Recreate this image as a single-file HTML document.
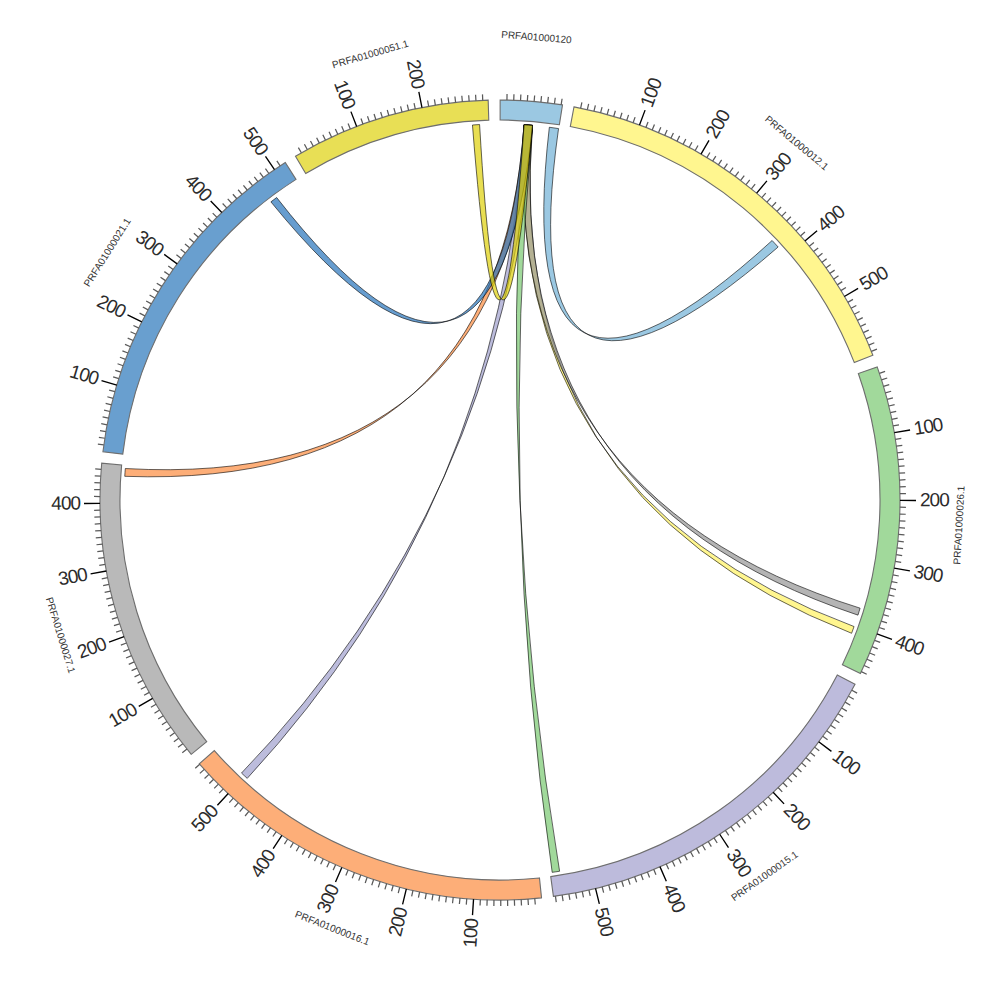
<!DOCTYPE html><html><head><meta charset="utf-8"><style>html,body{margin:0;padding:0;background:#fff;}svg{display:block}</style></head><body>
<svg width="1000" height="1000" viewBox="0 0 1000 1000" font-family="Liberation Sans, sans-serif">
<rect width="1000" height="1000" fill="#fff"/>
<path d="M500.14,100.00A400,400 0 0 1 562.51,104.91L559.38,124.67A380,380 0 0 0 500.13,120.00Z" fill="#9bc8e2" stroke="#6e6e6e" stroke-width="1.1"/>
<path d="M573.99,106.90A400,400 0 0 1 872.86,355.18L854.22,362.42A380,380 0 0 0 570.29,126.56Z" fill="#fff68f" stroke="#6e6e6e" stroke-width="1.1"/>
<path d="M877.20,366.87A400,400 0 0 1 860.41,673.50L842.39,664.83A380,380 0 0 0 858.34,373.53Z" fill="#a1d99b" stroke="#6e6e6e" stroke-width="1.1"/>
<path d="M855.03,684.27A400,400 0 0 1 553.41,896.42L550.74,876.60A380,380 0 0 0 837.28,675.05Z" fill="#bdbbdc" stroke="#6e6e6e" stroke-width="1.1"/>
<path d="M541.53,897.84A400,400 0 0 1 199.30,763.78L214.34,750.59A380,380 0 0 0 539.46,877.95Z" fill="#fdae78" stroke="#6e6e6e" stroke-width="1.1"/>
<path d="M191.26,754.32A400,400 0 0 1 101.69,463.22L121.61,465.06A380,380 0 0 0 206.70,741.61Z" fill="#b9b9b9" stroke="#6e6e6e" stroke-width="1.1"/>
<path d="M102.92,451.74A400,400 0 0 1 285.29,162.51L296.03,179.38A380,380 0 0 0 122.78,454.15Z" fill="#699fcf" stroke="#6e6e6e" stroke-width="1.1"/>
<path d="M295.48,156.24A400,400 0 0 1 488.18,100.17L488.77,120.17A380,380 0 0 0 305.71,173.43Z" fill="#e8df55" stroke="#6e6e6e" stroke-width="1.1"/>
<path d="M506.95,100.06L507.05,94.06M513.75,100.24L513.96,94.24M520.55,100.53L520.86,94.54M527.35,100.94L527.76,94.95M534.13,101.46L534.65,95.48M540.91,102.10L541.53,96.13M547.68,102.85L548.39,96.89M554.43,103.72L555.25,97.78M561.16,104.70L562.08,98.77M580.67,108.22L581.88,102.34M587.33,109.65L588.64,103.79M593.96,111.19L595.37,105.36M600.56,112.85L602.07,107.04M607.13,114.61L608.74,108.83M613.68,116.49L615.38,110.74M620.19,118.48L621.99,112.76M626.66,120.58L628.56,114.89M633.10,122.79L635.10,117.14M645.86,127.54L648.05,121.95M652.18,130.08L654.46,124.53M658.45,132.72L660.83,127.21M664.68,135.47L667.15,130.00M670.86,138.33L673.42,132.90M676.99,141.29L679.64,135.90M683.06,144.35L685.81,139.01M689.09,147.52L691.93,142.23M695.06,150.78L697.99,145.55M706.83,157.63L709.93,152.49M712.63,161.19L715.82,156.11M718.36,164.86L721.64,159.83M724.03,168.63L727.40,163.66M729.64,172.49L733.09,167.57M735.18,176.44L738.71,171.59M740.65,180.49L744.26,175.70M746.06,184.63L749.75,179.90M751.39,188.87L755.16,184.20M761.83,197.60L765.76,193.06M766.94,202.10L770.94,197.63M771.97,206.69L776.05,202.29M776.92,211.36L781.07,207.03M781.79,216.11L786.02,211.85M786.58,220.95L790.88,216.76M791.29,225.86L795.66,221.75M795.91,230.86L800.35,226.82M800.45,235.94L804.96,231.97M809.26,246.31L813.90,242.51M813.53,251.61L818.24,247.89M817.72,256.98L822.48,253.34M821.81,262.43L826.63,258.86M825.80,267.94L830.69,264.46M829.70,273.51L834.65,270.12M833.51,279.16L838.51,275.85M837.22,284.87L842.28,281.64M840.83,290.64L845.94,287.50M847.76,302.36L852.98,299.39M851.07,308.30L856.34,305.43M854.28,314.30L859.60,311.52M857.39,320.36L862.75,317.67M860.40,326.47L865.80,323.86M863.30,332.63L868.75,330.12M866.09,338.83L871.59,336.42M868.78,345.09L874.32,342.76M871.37,351.38L876.94,349.15M879.41,373.31L885.10,371.41M881.51,379.79L887.23,377.98M883.50,386.29L889.25,384.59M885.38,392.84L891.16,391.23M887.15,399.41L892.95,397.90M888.80,406.01L894.63,404.60M890.34,412.64L896.20,411.33M891.77,419.30L897.65,418.09M893.09,425.98L898.99,424.87M895.38,439.40L901.31,438.49M896.36,446.14L902.30,445.33M897.22,452.89L903.17,452.18M897.96,459.65L903.93,459.05M898.59,466.43L904.57,465.93M899.10,473.22L905.09,472.82M899.50,480.02L905.49,479.72M899.78,486.82L905.78,486.62M899.95,493.62L905.95,493.53M899.93,507.24L905.93,507.34M899.75,514.04L905.75,514.25M899.46,520.84L905.45,521.15M899.04,527.64L905.03,528.05M898.52,534.42L904.49,534.94M897.87,541.20L903.84,541.82M897.11,547.96L903.07,548.68M896.24,554.72L902.18,555.54M895.25,561.45L901.18,562.37M892.93,574.87L898.83,575.99M891.60,581.54L897.47,582.76M890.16,588.19L896.01,589.52M888.60,594.82L894.43,596.24M886.93,601.42L892.73,602.94M885.15,607.99L890.92,609.61M883.25,614.53L889.00,616.25M881.25,621.03L886.97,622.85M879.13,627.50L884.82,629.42M874.58,640.33L880.19,642.44M872.13,646.69L877.72,648.89M869.58,653.00L875.13,655.29M866.93,659.26L872.43,661.65M864.16,665.49L869.63,667.97M861.29,671.66L866.71,674.23M851.84,690.28L857.12,693.14M848.55,696.24L853.78,699.18M845.16,702.14L850.34,705.18M841.67,707.99L846.80,711.11M838.08,713.77L843.16,716.98M834.40,719.50L839.41,722.79M830.61,725.15L835.57,728.53M826.73,730.75L831.64,734.21M822.76,736.27L827.60,739.82M814.53,747.12L819.25,750.83M810.28,752.44L814.94,756.22M805.94,757.68L810.53,761.55M801.51,762.85L806.04,766.79M797.00,767.94L801.45,771.96M792.39,772.96L796.78,777.05M787.71,777.89L792.02,782.06M782.93,782.75L787.18,786.99M778.08,787.52L782.25,791.84M768.14,796.82L772.16,801.27M763.05,801.34L766.99,805.86M757.88,805.77L761.75,810.36M752.64,810.12L756.43,814.77M747.33,814.37L751.04,819.09M741.94,818.54L745.57,823.31M736.48,822.61L740.03,827.45M730.96,826.58L734.42,831.48M725.37,830.47L728.75,835.42M713.99,837.95L717.20,843.01M708.21,841.54L711.33,846.66M702.37,845.03L705.40,850.21M696.47,848.43L699.41,853.65M690.51,851.72L693.37,856.99M684.50,854.91L687.26,860.23M678.43,858.00L681.11,863.37M672.31,860.98L674.90,866.40M666.14,863.86L668.64,869.32M653.67,869.31L655.97,874.85M647.36,871.87L649.57,877.45M641.01,874.32L643.12,879.94M634.62,876.67L636.64,882.32M628.19,878.90L630.11,884.59M621.72,881.03L623.55,886.74M615.22,883.05L616.95,888.79M608.69,884.95L610.32,890.73M602.12,886.74L603.65,892.55M588.90,890.00L590.23,895.85M582.25,891.45L583.48,897.32M575.58,892.80L576.71,898.69M568.88,894.02L569.91,899.93M562.17,895.14L563.10,901.07M555.43,896.14L556.26,902.08M534.76,898.49L535.28,904.46M527.97,899.02L528.39,905.01M521.18,899.44L521.49,905.43M514.38,899.74L514.59,905.74M507.57,899.93L507.69,905.93M500.76,900.00L500.78,906.00M493.96,899.95L493.87,905.95M487.15,899.79L486.96,905.79M480.35,899.52L480.06,905.51M466.77,898.62L466.27,904.60M459.99,897.99L459.39,903.96M453.22,897.26L452.52,903.21M446.47,896.40L445.66,902.35M439.73,895.43L438.83,901.36M433.01,894.35L432.00,900.27M426.31,893.15L425.20,899.05M419.63,891.84L418.42,897.72M412.97,890.42L411.67,896.27M399.74,887.23L398.23,893.04M393.16,885.47L391.56,891.25M386.62,883.59L384.92,889.35M380.11,881.61L378.31,887.33M373.63,879.51L371.73,885.21M367.19,877.31L365.20,882.97M360.79,874.99L358.70,880.62M354.43,872.57L352.24,878.16M348.11,870.04L345.83,875.59M335.60,864.66L333.14,870.12M329.42,861.80L326.86,867.23M323.29,858.85L320.64,864.23M317.21,855.79L314.47,861.13M311.18,852.63L308.35,857.92M305.21,849.36L302.28,854.60M299.29,846.00L296.28,851.19M293.43,842.53L290.33,847.67M287.63,838.97L284.44,844.05M276.22,831.54L272.86,836.52M270.61,827.69L267.17,832.60M265.07,823.74L261.54,828.59M259.59,819.69L255.98,824.49M254.18,815.55L250.50,820.29M248.85,811.33L245.08,816.00M243.59,807.01L239.74,811.61M238.40,802.60L234.48,807.14M233.29,798.10L229.29,802.58M223.30,788.85L219.15,793.19M218.42,784.10L214.20,788.37M213.63,779.27L209.33,783.46M208.92,774.36L204.55,778.47M204.29,769.36L199.86,773.40M199.75,764.29L195.25,768.26M186.98,749.03L182.28,752.77M182.79,743.67L178.03,747.32M178.68,738.24L173.87,741.81M174.68,732.73L169.80,736.22M170.76,727.16L165.83,730.57M166.95,721.53L161.95,724.85M163.22,715.83L158.17,719.07M159.60,710.07L154.49,713.22M156.07,704.24L150.92,707.31M149.32,692.42L144.06,695.31M146.10,686.43L140.79,689.22M142.98,680.38L137.62,683.08M139.96,674.27L134.56,676.89M137.05,668.12L131.60,670.64M134.24,661.92L128.75,664.35M131.54,655.67L126.01,658.01M128.94,649.38L123.37,651.62M126.45,643.04L120.85,645.19M121.80,630.25L116.13,632.20M119.64,623.80L113.93,625.65M117.59,617.30L111.85,619.06M115.65,610.78L109.88,612.44M113.82,604.22L108.02,605.79M112.10,597.64L106.28,599.10M110.49,591.02L104.65,592.39M109.00,584.38L103.14,585.64M107.62,577.71L101.74,578.88M105.20,564.32L99.28,565.28M104.17,557.59L98.23,558.45M103.24,550.84L97.29,551.61M102.44,544.08L96.47,544.75M101.74,537.31L95.77,537.87M101.17,530.53L95.18,530.99M100.70,523.74L94.72,524.09M100.36,516.94L94.36,517.19M100.13,510.14L94.13,510.29M100.02,496.52L94.02,496.47M100.13,489.72L94.13,489.56M100.37,482.91L94.37,482.66M100.71,476.12L94.72,475.76M101.18,469.32L95.20,468.86M103.80,444.99L97.86,444.16M104.79,438.25L98.87,437.33M105.90,431.54L99.99,430.51M107.12,424.84L101.23,423.71M108.46,418.16L102.59,416.94M109.91,411.51L104.06,410.19M111.47,404.89L105.64,403.46M113.15,398.29L107.34,396.76M114.93,391.72L109.16,390.10M118.84,378.68L113.12,376.86M120.96,372.21L115.28,370.30M123.19,365.78L117.54,363.77M125.53,359.39L119.91,357.28M127.98,353.04L122.40,350.83M130.53,346.73L124.99,344.43M133.19,340.46L127.69,338.07M135.96,334.24L130.50,331.75M138.84,328.07L133.42,325.49M144.89,315.88L139.57,313.12M148.08,309.86L142.80,307.01M151.37,303.90L146.14,300.96M154.75,298.00L149.58,294.97M158.24,292.15L153.11,289.03M161.83,286.37L156.76,283.16M165.51,280.64L160.50,277.35M169.29,274.98L164.33,271.61M173.17,269.39L168.27,265.93M181.21,258.40L176.43,254.77M185.37,253.01L180.65,249.30M189.61,247.69L184.96,243.90M193.95,242.44L189.36,238.58M198.38,237.27L193.86,233.33M202.89,232.18L198.44,228.16M207.50,227.16L203.11,223.07M212.18,222.22L207.86,218.06M216.95,217.37L212.70,213.13M226.73,207.90L222.63,203.52M231.74,203.29L227.72,198.84M236.83,198.77L232.88,194.25M241.99,194.33L238.12,189.75M247.23,189.99L243.44,185.34M252.55,185.73L248.83,181.01M257.93,181.56L254.30,176.79M263.38,177.49L259.83,172.65M268.91,173.51L265.44,168.61M280.15,165.84L276.85,160.82M301.36,152.81L298.38,147.60M307.30,149.48L304.41,144.22M313.29,146.25L310.49,140.94M319.34,143.12L316.63,137.77M325.44,140.10L322.82,134.70M331.59,137.18L329.06,131.74M337.79,134.37L335.35,128.88M344.03,131.66L341.69,126.14M350.32,129.06L348.08,123.50M363.03,124.18L360.98,118.54M369.45,121.90L367.49,116.23M375.90,119.74L374.04,114.03M382.39,117.68L380.63,111.95M388.91,115.73L387.25,109.97M395.47,113.90L393.90,108.11M402.05,112.18L400.59,106.36M408.67,110.57L407.30,104.72M415.31,109.07L414.04,103.20M428.66,106.41L427.59,100.51M435.37,105.26L434.40,99.33M442.10,104.21L441.23,98.28M448.84,103.29L448.07,97.33M455.60,102.47L454.93,96.51M462.37,101.77L461.81,95.80M469.15,101.19L468.69,95.21M475.94,100.72L475.58,94.73M482.74,100.37L482.48,94.38" stroke="#5a5a5a" stroke-width="1.25" fill="none"/>
<path d="M639.50,125.11L645.08,110.12M700.98,154.15L709.01,140.32M756.65,193.19L766.91,180.92M804.90,241.09L817.10,230.73M844.35,296.47L858.12,288.32M894.29,432.68L910.07,429.99M900.00,500.43L916.00,500.45M894.15,568.17L909.91,570.89M876.91,633.94L891.99,639.29M818.69,741.73L831.44,751.40M773.15,792.22L784.07,803.90M719.71,834.25L728.50,847.63M659.93,866.64L666.33,881.30M595.52,888.43L599.34,903.96M473.55,899.12L472.50,915.09M406.34,888.88L402.59,904.44M341.83,867.40L335.50,882.10M281.89,835.30L273.17,848.72M228.26,793.52L217.39,805.26M152.65,698.36L138.75,706.30M124.07,636.67L109.03,642.13M106.36,571.02L90.61,573.87M100.01,503.33L84.01,503.46M116.83,385.18L101.51,380.59M141.81,321.95L127.49,314.83M177.14,263.86L164.23,254.41M221.80,212.59L210.67,201.09M274.50,169.62L265.48,156.41M356.66,126.57L350.92,111.63M421.97,107.68L418.85,91.99" stroke="#000" stroke-width="1.35" fill="none"/>
<g font-size="19" fill="#2b2b2b" letter-spacing="-1"><text transform="translate(646.47,106.37) rotate(-69.59)" text-anchor="start" dy="0.31em">100</text><text transform="translate(711.02,136.86) rotate(-59.84)" text-anchor="start" dy="0.31em">200</text><text transform="translate(769.48,177.85) rotate(-50.09)" text-anchor="start" dy="0.31em">300</text><text transform="translate(820.15,228.14) rotate(-40.34)" text-anchor="start" dy="0.31em">400</text><text transform="translate(861.56,286.29) rotate(-30.59)" text-anchor="start" dy="0.31em">500</text><text transform="translate(914.01,429.31) rotate(-9.69)" text-anchor="start" dy="0.31em">100</text><text transform="translate(920.00,500.45) rotate(0.06)" text-anchor="start" dy="0.31em">200</text><text transform="translate(913.86,571.58) rotate(9.81)" text-anchor="start" dy="0.31em">300</text><text transform="translate(895.76,640.63) rotate(19.56)" text-anchor="start" dy="0.31em">400</text><text transform="translate(834.63,753.82) rotate(37.18)" text-anchor="start" dy="0.31em">100</text><text transform="translate(786.81,806.83) rotate(46.93)" text-anchor="start" dy="0.31em">200</text><text transform="translate(730.70,850.97) rotate(56.68)" text-anchor="start" dy="0.31em">300</text><text transform="translate(667.92,884.97) rotate(66.43)" text-anchor="start" dy="0.31em">400</text><text transform="translate(600.30,907.85) rotate(76.18)" text-anchor="start" dy="0.31em">500</text><text transform="translate(472.23,919.08) rotate(273.79)" text-anchor="end" dy="0.31em">100</text><text transform="translate(401.66,908.32) rotate(283.54)" text-anchor="end" dy="0.31em">200</text><text transform="translate(333.92,885.77) rotate(293.29)" text-anchor="end" dy="0.31em">300</text><text transform="translate(270.99,852.07) rotate(303.04)" text-anchor="end" dy="0.31em">400</text><text transform="translate(214.67,808.20) rotate(312.79)" text-anchor="end" dy="0.31em">500</text><text transform="translate(135.28,708.28) rotate(330.27)" text-anchor="end" dy="0.31em">100</text><text transform="translate(105.28,643.50) rotate(340.02)" text-anchor="end" dy="0.31em">200</text><text transform="translate(86.67,574.58) rotate(349.77)" text-anchor="end" dy="0.31em">300</text><text transform="translate(80.01,503.50) rotate(359.52)" text-anchor="end" dy="0.31em">400</text><text transform="translate(97.67,379.44) rotate(376.68)" text-anchor="end" dy="0.31em">100</text><text transform="translate(123.90,313.05) rotate(386.43)" text-anchor="end" dy="0.31em">200</text><text transform="translate(161.00,252.05) rotate(396.18)" text-anchor="end" dy="0.31em">300</text><text transform="translate(207.89,198.22) rotate(405.93)" text-anchor="end" dy="0.31em">400</text><text transform="translate(263.22,153.11) rotate(415.68)" text-anchor="end" dy="0.31em">500</text><text transform="translate(349.49,107.89) rotate(429.00)" text-anchor="end" dy="0.31em">100</text><text transform="translate(418.07,88.07) rotate(438.75)" text-anchor="end" dy="0.31em">200</text></g>
<g font-size="10" fill="#333"><text transform="translate(536.49,36.94) rotate(4.51)" text-anchor="middle" dy="0.36em">PRFA01000120</text><text transform="translate(796.82,142.70) rotate(39.72)" text-anchor="middle" dy="0.36em">PRFA01000012.1</text><text transform="translate(958.81,525.11) rotate(-86.87)" text-anchor="middle" dy="0.36em">PRFA01000026.1</text><text transform="translate(764.36,875.84) rotate(-35.12)" text-anchor="middle" dy="0.36em">PRFA01000015.1</text><text transform="translate(332.41,927.85) rotate(21.39)" text-anchor="middle" dy="0.36em">PRFA01000016.1</text><text transform="translate(60.82,635.13) rotate(72.90)" text-anchor="middle" dy="0.36em">PRFA01000027.1</text><text transform="translate(107.09,252.25) rotate(-57.77)" text-anchor="middle" dy="0.36em">PRFA01000021.1</text><text transform="translate(370.24,53.99) rotate(-16.22)" text-anchor="middle" dy="0.36em">PRFA01000051.1</text></g>
<path d="M524.07,124.77A376,376 0 0 1 532.51,125.41Q501.74,496.12 851.59,633.27A376,376 0 0 0 854.06,626.56Q501.74,496.12 524.07,124.77Z" fill="#fff25f" fill-opacity="0.7" stroke="#000" stroke-width="0.7" stroke-opacity="0.85"/>
<path d="M524.07,124.77A376,376 0 0 1 532.51,125.41Q501.74,496.12 857.94,615.13A376,376 0 0 0 860.10,608.17Q501.74,496.12 524.07,124.77Z" fill="#949494" fill-opacity="0.7" stroke="#000" stroke-width="0.7" stroke-opacity="0.85"/>
<path d="M524.07,124.77A376,376 0 0 1 532.51,125.41Q498.00,502.87 552.20,872.36A376,376 0 0 0 559.60,871.25Q498.00,502.87 524.07,124.77Z" fill="#79c970" fill-opacity="0.7" stroke="#000" stroke-width="0.7" stroke-opacity="0.85"/>
<path d="M524.07,124.77A376,376 0 0 1 532.51,125.41Q501.98,502.55 241.51,773.06A376,376 0 0 0 247.24,778.37Q501.98,502.55 524.07,124.77Z" fill="#9f9fcd" fill-opacity="0.7" stroke="#000" stroke-width="0.7" stroke-opacity="0.85"/>
<path d="M524.07,124.77A376,376 0 0 1 532.51,125.41Q498.75,489.80 125.32,468.54A376,376 0 0 0 124.75,476.33Q498.75,489.80 524.07,124.77Z" fill="#fc8b3e" fill-opacity="0.7" stroke="#000" stroke-width="0.7" stroke-opacity="0.85"/>
<path d="M524.07,124.77A376,376 0 0 1 532.51,125.41Q496.35,479.33 276.66,197.52A376,376 0 0 0 270.90,201.86Q496.35,479.33 524.07,124.77Z" fill="#2774ba" fill-opacity="0.7" stroke="#000" stroke-width="0.7" stroke-opacity="0.85"/>
<path d="M524.07,124.77A376,376 0 0 1 532.51,125.41Q500.14,475.00 479.60,124.55A376,376 0 0 0 472.46,125.01Q500.14,475.00 524.07,124.77Z" fill="#ded008" fill-opacity="0.7" stroke="#000" stroke-width="0.7" stroke-opacity="0.85"/>
<path d="M549.34,127.25A376,376 0 0 1 558.56,128.59Q508.10,481.80 778.15,247.00A376,376 0 0 0 772.11,240.51Q508.10,481.80 549.34,127.25Z" fill="#70b0d6" fill-opacity="0.7" stroke="#000" stroke-width="0.7" stroke-opacity="0.85"/>
</svg></body></html>
